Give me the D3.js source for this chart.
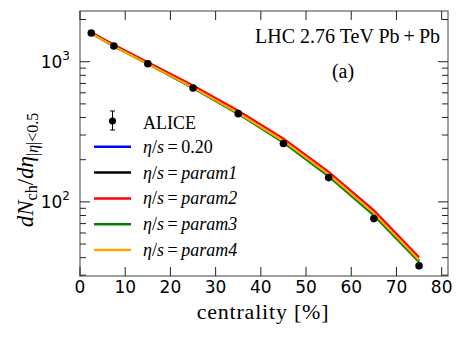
<!DOCTYPE html>
<html>
<head>
<meta charset="utf-8">
<script src="https://cdn.jsdelivr.net/npm/d3@7"></script>
<style>
    body { margin: 0; background: #fff; }
    .serif { font-family: "Liberation Serif", "Times New Roman", serif; }
    .tick-label { font-family: "DejaVu Sans", sans-serif; font-size: 17px; }
</style>
</head>
<body>
<svg id="chart" width="463" height="340"></svg>
<script>
// Centrality bins (%)
var centrality = [2.5, 7.5, 15, 25, 35, 45, 55, 65, 75];

// ALICE data
var aliceValues = [1601, 1294, 966, 649, 426, 261, 149, 76, 35];
var aliceErrors = [60, 49, 37, 23, 15, 9, 6, 4, 2];

// Model curves
var seriesNames = ["0.20", "param1", "param2", "param3", "param4"];
var seriesColors = ["#0000ff", "#000000", "#ff0000", "#008000", "#ffa500"];
var etaS020 = [1595, 1290, 965, 652, 429, 269, 155, 82, 38];
var etaSParam1 = [1598, 1292, 966, 653, 430, 270, 155.5, 82, 38];
var etaSParam2 = [1625, 1322, 992, 676, 447, 283, 164, 87, 40.2];
var etaSParam3 = [1602, 1296, 968, 648, 424, 265, 152, 80, 37.3];
var etaSParam4 = [1588, 1288, 963, 654, 431, 272, 157, 83, 38.5];
var seriesValues = [etaS020, etaSParam1, etaSParam2, etaSParam3, etaSParam4];

// Axis ticks
var xTicks = [0, 10, 20, 30, 40, 50, 60, 70, 80];
var yMajorTicks = [100, 1000];
var yMinorTicks = [30, 40, 50, 60, 70, 80, 90, 200, 300, 400, 500, 600, 700, 800, 900, 2000];

var margin = { left: 80, right: 448, top: 11, bottom: 276 };

var svg = d3.select("#chart");

var xScale = d3.scaleLinear()
    .domain([0, 81.4])
    .range([margin.left, margin.right]);

var yScale = d3.scaleLog()
    .domain([29.6, 2300])
    .range([margin.bottom, margin.top]);

// Model lines
var line = d3.line()
    .x(function(d, i) { return xScale(centrality[i]); })
    .y(function(d) { return yScale(d); });

seriesValues.forEach(function(values, i) {
    svg.append("path")
        .datum(values)
        .attr("d", line)
        .attr("fill", "none")
        .attr("stroke", seriesColors[i])
        .attr("stroke-width", 2.2);
});

// ALICE points with error bars
var points = centrality.map(function(c, i) {
    return { x: c, y: aliceValues[i], e: aliceErrors[i] };
});

svg.selectAll(".errbar")
    .data(points)
    .enter()
    .append("line")
    .attr("class", "errbar")
    .attr("x1", function(d) { return xScale(d.x); })
    .attr("x2", function(d) { return xScale(d.x); })
    .attr("y1", function(d) { return yScale(d.y - d.e); })
    .attr("y2", function(d) { return yScale(d.y + d.e); })
    .attr("stroke", "#000")
    .attr("stroke-width", 1);

svg.selectAll(".point")
    .data(points)
    .enter()
    .append("circle")
    .attr("class", "point")
    .attr("cx", function(d) { return xScale(d.x); })
    .attr("cy", function(d) { return yScale(d.y); })
    .attr("r", 3.8)
    .attr("fill", "#000");

// Frame
svg.append("rect")
    .attr("x", margin.left)
    .attr("y", margin.top)
    .attr("width", margin.right - margin.left)
    .attr("height", margin.bottom - margin.top)
    .attr("fill", "none")
    .attr("stroke", "#808080")
    .attr("stroke-width", 1.5);

// Ticks (pointing inward on all four sides)
var tickGroup = svg.append("g")
    .attr("stroke", "#222")
    .attr("stroke-width", 1);

xTicks.forEach(function(t) {
    var x = xScale(t);
    tickGroup.append("line").attr("x1", x).attr("x2", x)
        .attr("y1", margin.bottom).attr("y2", margin.bottom - 9);
    tickGroup.append("line").attr("x1", x).attr("x2", x)
        .attr("y1", margin.top).attr("y2", margin.top + 9);
});

yMajorTicks.forEach(function(t) {
    var y = yScale(t);
    tickGroup.append("line").attr("x1", margin.left).attr("x2", margin.left + 10)
        .attr("y1", y).attr("y2", y);
    tickGroup.append("line").attr("x1", margin.right).attr("x2", margin.right - 10)
        .attr("y1", y).attr("y2", y);
});

yMinorTicks.forEach(function(t) {
    var y = yScale(t);
    tickGroup.append("line").attr("x1", margin.left).attr("x2", margin.left + 6)
        .attr("y1", y).attr("y2", y);
    tickGroup.append("line").attr("x1", margin.right).attr("x2", margin.right - 6)
        .attr("y1", y).attr("y2", y);
});

// X tick labels
svg.selectAll(".xlabel")
    .data(xTicks)
    .enter()
    .append("text")
    .attr("class", "tick-label")
    .attr("x", function(d) { return xScale(d); })
    .attr("y", margin.bottom + 17)
    .attr("text-anchor", "middle")
    .text(function(d) { return d; });

// Y tick labels (10^n)
yMajorTicks.forEach(function(t) {
    var label = svg.append("text")
        .attr("class", "tick-label")
        .attr("x", margin.left - 10)
        .attr("y", yScale(t) + 6.5)
        .attr("text-anchor", "end");
    label.append("tspan").text("10");
    label.append("tspan")
        .attr("dy", -8)
        .attr("font-size", "12px")
        .text(Math.round(Math.log10(t)));
});

// Axis labels
svg.append("text")
    .attr("class", "serif")
    .attr("x", 263)
    .attr("y", 319)
    .attr("text-anchor", "middle")
    .attr("font-size", "22px")
    .attr("letter-spacing", "0.8px")
    .text("centrality [%]");

var yLabel = svg.append("text")
    .attr("class", "serif")
    .attr("transform", "translate(33, 170) rotate(-90)")
    .attr("text-anchor", "middle")
    .attr("font-size", "23px");
yLabel.append("tspan").attr("font-style", "italic").text("dN");
yLabel.append("tspan").attr("font-size", "16px").attr("dy", 4).text("ch");
yLabel.append("tspan").attr("dy", -4).text("/");
yLabel.append("tspan").attr("font-style", "italic").text("d\u03b7");
yLabel.append("tspan").attr("font-size", "16px").attr("dy", 5).text("|");
yLabel.append("tspan").attr("font-size", "16px").attr("font-style", "italic").text("\u03b7");
yLabel.append("tspan").attr("font-size", "16px").text("|<0.5");

// Annotations
svg.append("text")
    .attr("class", "serif")
    .attr("x", 440)
    .attr("y", 43)
    .attr("text-anchor", "end")
    .attr("font-size", "20px")
    .text("LHC 2.76 TeV Pb\u2009+\u2009Pb");

svg.append("text")
    .attr("class", "serif")
    .attr("x", 343)
    .attr("y", 78)
    .attr("text-anchor", "middle")
    .attr("font-size", "20px")
    .text("(a)");

// Legend
var legendX = 94;
var legendY = 121;
var rowStep = 25.8;

svg.append("line")
    .attr("x1", 112.5).attr("x2", 112.5)
    .attr("y1", legendY - 10).attr("y2", legendY + 9)
    .attr("stroke", "#000").attr("stroke-width", 1);
[legendY - 10, legendY + 9].forEach(function(y) {
    svg.append("line")
        .attr("x1", 110).attr("x2", 115)
        .attr("y1", y).attr("y2", y)
        .attr("stroke", "#000").attr("stroke-width", 1);
});
svg.append("circle")
    .attr("cx", 112.5).attr("cy", legendY)
    .attr("r", 3.5).attr("fill", "#000");
svg.append("text")
    .attr("class", "serif")
    .attr("x", 143)
    .attr("y", legendY + 8)
    .attr("font-size", "18px")
    .text("ALICE");

seriesNames.forEach(function(name, i) {
    var y = legendY + rowStep * (i + 1);
    svg.append("line")
        .attr("x1", legendX).attr("x2", legendX + 37)
        .attr("y1", y).attr("y2", y)
        .attr("stroke", seriesColors[i])
        .attr("stroke-width", 2.5);
    var label = svg.append("text")
        .attr("class", "serif")
        .attr("x", 143)
        .attr("y", y + 6)
        .attr("font-size", "18px");
    label.append("tspan").attr("font-style", "italic").text("\u03b7");
    label.append("tspan").text("/");
    label.append("tspan").attr("font-style", "italic").text("s");
    label.append("tspan").text("\u2009=\u2009");
    label.append("tspan")
        .attr("font-style", name === "0.20" ? "normal" : "italic")
        .text(name);
});
</script>
</body>
</html>
